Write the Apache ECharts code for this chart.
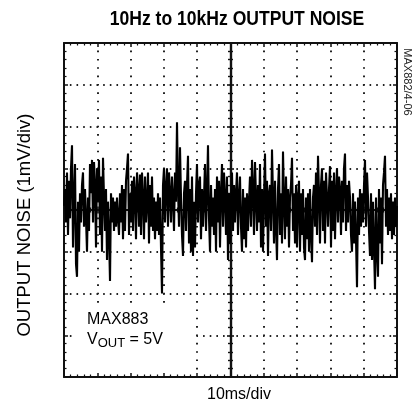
<!DOCTYPE html>
<html>
<head>
<meta charset="utf-8">
<script src="https://cdn.jsdelivr.net/npm/echarts@6/dist/echarts.min.js"></script>
<style>
html,body{margin:0;padding:0;background:#fff;}
#c{width:412px;height:404px;}
</style>
</head>
<body>
<div id="c"></div>
<script>
// Chart texts
var titleText = '10Hz to 10kHz OUTPUT NOISE';
var yLabel = 'OUTPUT NOISE (1mV/div)';
var xLabel = '10ms/div';
var partLabel = 'MAX883';
var figCode = 'MAX882/4-06';

// Time axis: 10 divisions of 10 ms, centred at 0 (ms)
var timeRange = [-50, 50];
var timeStep = 10;
// Voltage axis: 8 divisions of 1 mV
var voltRange = [-4, 4];
var voltStep = 1;

// Noise trace samples (mV), read left to right across the screen
var noise = [
 0.1, 0.5,-0.3, 0.9,-0.6, 0.7,-0.2, 1.0, 1.55,-0.9,
 0.3, 1.1,-1.3,-1.6, 0.2,-1.0, 0.4,-0.3, 0.6, 0.9,
-0.4, 0.5,-0.2,-1.0, 0.3,-0.5, 1.1, 0.4, 1.2,-0.3,
 1.15,0.6,-0.9, 1.0, 0.2, 1.2,-0.6, 0.8,-1.0, 1.25,
 0.3,-0.5, 0.5,-1.2, 0.2,-0.6,-1.7, 0.4,-0.3, 0.3,
-0.5, 0.2,-0.4, 0.3,-0.2,-0.6, 0.4,-0.3, 0.6,-0.7,
 0.5,-0.5, 0.7, 1.0, 1.35,-0.6, 0.4,-0.3, 0.7,-0.5,
 0.8, 0.4,-0.7, 0.9, 0.5,-0.4, 0.85,-0.6, 0.9, 0.3,
-0.7, 0.8,-0.3, 0.2, 0.9,-0.8, 0.6,-0.4, 0.8,-0.5,
 0.3,-0.7, 0.2,-0.5, 0.4,-0.6, 0.3,-0.9,-2.0, 0.6,
 1.0,-0.3, 0.5, 1.0,-0.4, 0.9, 0.4,-0.3, 0.8, 0.3,
-0.5, 0.9, 0.2, 2.1, 0.5,-0.4, 1.5, 0.3,-0.6,-1.1,
 0.4, 0.7,-0.5, 0.6, 1.3,-0.8, 0.5,-1.0, 0.8,-1.1,
 0.2,-0.9, 0.4, 1.1,-0.3, 0.6, 0.8,-0.7, 0.5,-0.4,
 0.3, 1.1,-0.5, 0.4, 1.55,-0.2,-1.0, 0.6,-0.4, 0.3,
-0.6, 0.5,-1.0, 0.8,-0.3, 0.7,-0.9, 0.4, 1.1,-0.4,
 0.9, 0.3,-0.6, 0.8,-1.2, 0.4,-0.8, 0.2, 0.9,-0.5,
 0.6,-0.3, 0.4, 0.9,-0.6, 0.3, 0.8,-0.4,-1.0, 0.5,
-0.7, 0.3,-0.9, 0.4,-0.5, 0.2, 0.8,-0.4, 1.2, 0.5,
-0.6, 1.15,0.3,-0.5, 0.6,-0.3, 1.1,-0.9, 0.5,-1.0,
 0.3, 1.35,-0.4, 0.7,-1.1, 0.4, 0.6,-0.5, 1.45, 0.3,
-0.8, 0.7,-0.4,-1.2, 0.5, 1.1,-0.6, 0.4,-0.8, 1.4,
 0.2,-0.7, 0.8,-0.4, 0.5,-0.9, 0.3, 0.6, 1.25,-0.5,
 0.4,-0.8, 0.6,-0.9, 0.3, 0.7,-1.0, 0.4,-0.6, 0.5,
-0.9,-1.2, 0.3,-0.7, 0.4,-1.0, 0.5,-0.6,-1.25, 0.3,
 0.6,-0.4, 0.9,-0.6, 1.3, 0.4,-0.8, 0.6, 1.0,-0.5,
 0.7,-0.8, 0.9, 0.3,-0.4, 0.5, 1.05,-0.9, 0.7,-0.5,
 0.9,-0.7, 0.4, 1.0,-0.3, 0.8, 0.5,-0.6, 0.7,-0.3,
 1.0, 1.35,-0.5, 0.6,-0.3, 0.7, 0.3,-0.6,-1.0, 0.4,
-0.8, 0.2,-0.7,-1.85, 0.3,-0.6, 0.5,-0.4, 0.4,-0.3,
 0.6, 1.2,-0.4, 0.9, 0.3,-0.5,-1.1, 0.4,-1.2, 0.2,
-0.9,-1.9, 0.3,-1.0,-1.6, 0.5,-0.8, 0.3,-1.3, 0.6,
 0.9, 1.3,-0.4, 0.5,-0.6, 0.3,-0.5, 0.4,-0.7, 0.2,
-0.6, 0.3,-0.4, 0.1
];

var span = timeRange[1] - timeRange[0];
var traceData = noise.map(function (v, i) {
  return [timeRange[0] + i * span / (noise.length - 1), v];
});

var chart = echarts.init(document.getElementById('c'), null, {renderer: 'canvas'});

var gridRect = {left: 64, top: 43, width: 333, height: 334};
var ink = '#111';
var minorX = (gridRect.width / (span / timeStep)) / 5;
var minorY = (gridRect.height / ((voltRange[1] - voltRange[0]) / voltStep)) / 5;

function borderAxis(pos, gridIndex, isX, split) {
  var a = {
    type: 'value', gridIndex: gridIndex, position: pos, z: 2,
    min: isX ? timeRange[0] : voltRange[0],
    max: isX ? timeRange[1] : voltRange[1],
    interval: isX ? timeStep : voltStep,
    axisLine: {show: true, onZero: false, lineStyle: {color: ink, width: 2}},
    axisTick: {show: true, inside: true, length: 4, lineStyle: {color: ink, width: 1.5}},
    minorTick: {show: true, splitNumber: 5, length: 2.5, lineStyle: {color: ink, width: 1.2}},
    axisLabel: {show: false},
    splitLine: {show: false}
  };
  if (split) {
    var step = isX ? minorY : minorX;
    a.z = 0;
    a.splitLine = {show: true, lineStyle: {color: '#222', width: 2, type: [1.6, step - 1.6], dashOffset: 0.8}};
  }
  return a;
}
function centerAxis(pos, gridIndex, isX) {
  return {
    type: 'value', gridIndex: gridIndex, position: pos, z: 2,
    min: isX ? timeRange[0] : voltRange[0],
    max: isX ? timeRange[1] : voltRange[1],
    interval: isX ? timeStep : voltStep,
    axisLine: {show: true, onZero: true, lineStyle: {color: ink, width: 2.2}},
    axisTick: {show: true, inside: false, length: 3.5, lineStyle: {color: ink, width: 1.6}},
    minorTick: {show: true, splitNumber: 5, length: 2.5, lineStyle: {color: ink, width: 1.4}},
    axisLabel: {show: false},
    splitLine: {show: false}
  };
}

var baseFont = '"Liberation Sans", Arial, sans-serif';

var option = {
  animation: false,
  backgroundColor: '#fff',
  grid: [
    Object.assign({containLabel: false}, gridRect),
    Object.assign({containLabel: false}, gridRect)
  ],
  xAxis: [
    borderAxis('bottom', 0, true, true),
    borderAxis('top', 0, true, false),
    centerAxis('bottom', 1, true),
    centerAxis('top', 1, true)
  ],
  yAxis: [
    borderAxis('left', 0, false, true),
    borderAxis('right', 0, false, false),
    centerAxis('left', 1, false),
    centerAxis('right', 1, false)
  ],
  series: [{
    type: 'line',
    xAxisIndex: 0, yAxisIndex: 0,
    data: traceData,
    showSymbol: false,
    symbol: 'none',
    lineStyle: {color: '#000', width: 2.1},
    z: 5,
    silent: true
  }],
  graphic: [
    {type: 'rect', z: 1, silent: true,
      shape: {x: 76, y: 303, width: 117, height: 69},
      style: {fill: '#fff'}},
    {type: 'text', z: 10, x: 237, y: 20, scaleX: 0.9,
      style: {text: titleText, fill: '#000', align: 'center', verticalAlign: 'middle',
        font: 'bold 19.5px ' + baseFont}},
    {type: 'text', z: 10, x: 25, y: 225, rotation: Math.PI / 2,
      style: {text: yLabel, fill: '#000', align: 'center', verticalAlign: 'middle',
        font: '18.5px ' + baseFont}},
    {type: 'text', z: 10, x: 239, y: 395,
      style: {text: xLabel, fill: '#000', align: 'center', verticalAlign: 'middle',
        font: '16px ' + baseFont}},
    {type: 'text', z: 10, x: 87, y: 320,
      style: {text: partLabel, fill: '#000', align: 'left', verticalAlign: 'middle',
        font: '16px ' + baseFont}},
    {type: 'text', z: 10, x: 87, y: 340,
      style: {
        text: '{v|V}{s|OUT}{v| = 5V}',
        align: 'left', verticalAlign: 'middle',
        rich: {
          v: {fontSize: 16, fontFamily: baseFont, fill: '#000', lineHeight: 18},
          s: {fontSize: 13, fontFamily: baseFont, fill: '#000', lineHeight: 18, padding: [6, 0, 0, 0]}
        }
      }},
    {type: 'text', z: 10, x: 407, y: 82, rotation: -Math.PI / 2,
      style: {text: figCode, fill: '#222', align: 'center', verticalAlign: 'middle',
        font: '11px ' + baseFont}}
  ]
};

chart.setOption(option);
</script>
</body>
</html>
